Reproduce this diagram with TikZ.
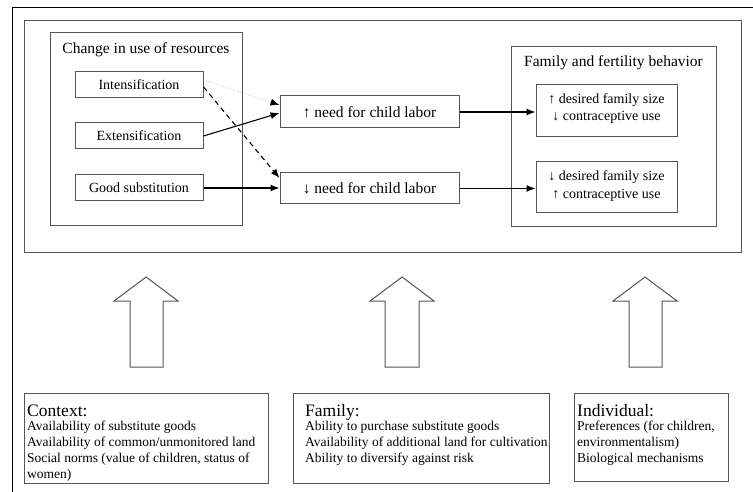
\documentclass[tikz,border=0pt]{standalone}
\usepackage{fontspec}
\setmainfont{Liberation Serif}
\usetikzlibrary{arrows.meta,calc}
\definecolor{boxgray}{RGB}{85,85,85}
\definecolor{dotgray}{RGB}{150,150,150}
\tikzset{
  frame/.style={draw=boxgray,line width=1pt},
  box/.style={draw=boxgray,line width=1pt,inner sep=0pt,align=center,font=\fontsize{14}{17.5}\selectfont},
  needbox/.style={box,font=\fontsize{15.5}{18}\selectfont},
  title/.style={inner sep=0pt,font=\fontsize{15.5}{18}\selectfont},
  head/.style={inner sep=0pt,anchor=base west,font=\fontsize{17.5}{20}\selectfont},
  body/.style={inner sep=0pt,anchor=base west,font=\fontsize{13.5}{16}\selectfont},
  linetext/.style={inner sep=0pt,font=\fontsize{14}{17.5}\selectfont},
  conn/.style={line width=1.1pt,-{Latex[length=9pt,width=7pt]}},
  bigarrow/.style={draw=boxgray,line width=1pt,fill=white},
}
\begin{document}
\begin{tikzpicture}[x=1pt,y=-1pt]
\useasboundingbox (0,0) rectangle (753,492);
% outer frame (clipped on right and bottom)
\draw[line width=1pt] (12,492) -- (12,8) -- (753,8);
% inner frame
\draw[frame] (24,21) rectangle (741,252);
% change in use of resources
\node[box,minimum width=192pt,minimum height=193pt] (chg) at (146,129.5) {};
\node[title] (chgt) at (146,50) {Change in use of resources};
\node[box,minimum width=128pt,minimum height=26pt] (int) at (139,85) {Intensification};
\node[box,minimum width=128pt,minimum height=26pt] (ext) at (139,136) {Extensification};
\node[box,minimum width=128pt,minimum height=26pt] (good) at (139,188) {Good substitution};
% need boxes
\node[needbox,minimum width=179pt,minimum height=32pt] (up) at (369.5,112) {↑ need for child labor};
\node[needbox,minimum width=179pt,minimum height=31pt] (down) at (369.5,188.5) {↓ need for child labor};
% family and fertility
\node[box,minimum width=205pt,minimum height=180pt] (fam) at (613.5,137) {};
\node[title] (famt) at (613.5,63) {Family and fertility behavior};
\node[box,minimum width=141pt,minimum height=52pt] (f1) at (606.5,111) {};
\node[box,minimum width=141pt,minimum height=51pt] (f2) at (606.5,187.5) {};
\node[linetext] (f1a) at (606.5,100) {↑ desired family size};
\node[linetext] (f1b) at (606.5,117.5) {↓ contraceptive use};
\node[linetext] (f2a) at (606.5,177.5) {↓ desired family size};
\node[linetext] (f2b) at (606.5,195) {↑ contraceptive use};
% connectors
\draw[line width=0.6pt,dotgray,dotted,-{Latex[length=9pt,width=7pt,black]}] ([yshift=5pt]int.east) -- ([yshift=7pt]up.west);
\draw[conn] (ext.east) -- ([yshift=-1pt]up.west);
\draw[conn,dash pattern=on 5pt off 4pt] ([yshift=-2pt]int.east) -- ([yshift=10.5pt]down.west);
\draw[conn] (good.east) -- (good.east -| down.west);
\draw[conn] (up.east) -- (up.east -| f1.west);
\draw[conn] (down.east) -- (down.east -| f2.west);
% big arrows
\draw[bigarrow] (146,277) -- (178,301) -- (163,301) -- (163,367) -- (130,367) -- (130,301) -- (114,301) -- cycle;
\draw[bigarrow] (402,277) -- (434,301) -- (419,301) -- (419,367) -- (385,367) -- (385,301) -- (370,301) -- cycle;
\draw[bigarrow] (645,277) -- (677,301) -- (662,301) -- (662,367) -- (629,367) -- (629,301) -- (613,301) -- cycle;
% bottom boxes
\draw[frame] (24,393) rectangle (268,483);
\draw[frame] (293,393) rectangle (549,483);
\draw[frame] (574,393) rectangle (728,481);
\node[head] (c0) at (27,416) {Context:};
\node[body] (c1) at (27,430) {Availability of substitute goods};
\node[body] (c2) at (27,446) {Availability of common/unmonitored land};
\node[body] (c3) at (27,462) {Social norms (value of children, status of};
\node[body] (c4) at (27,478) {women)};
\node[head] (d0) at (305,416) {Family:};
\node[body] (d1) at (305,430) {Ability to purchase substitute goods};
\node[body] (d2) at (305,446) {Availability of additional land for cultivation};
\node[body] (d3) at (305,462) {Ability to diversify against risk};
\node[head] (e0) at (577,416) {Individual:};
\node[body] (e1) at (577,430) {Preferences (for children,};
\node[body] (e2) at (577,446) {environmentalism)};
\node[body] (e3) at (577,462) {Biological mechanisms};
\end{tikzpicture}
\end{document}
